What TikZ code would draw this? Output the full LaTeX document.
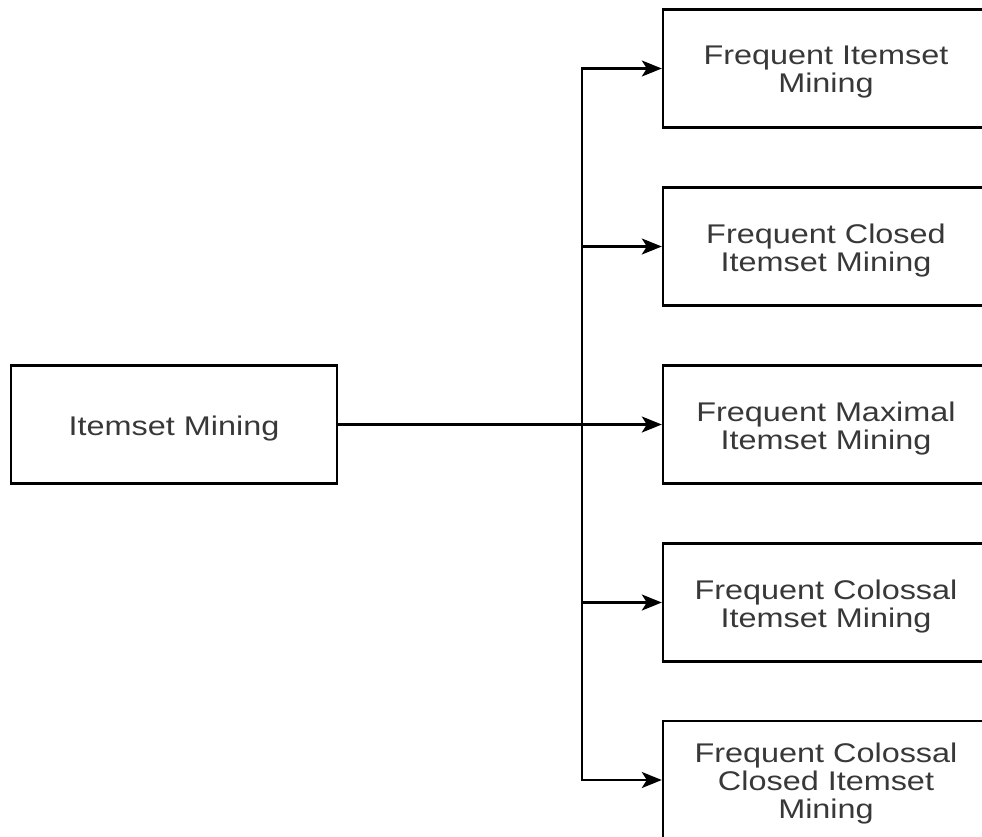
\documentclass[tikz,border=0pt]{standalone}
\usepackage{fontspec}
\setmainfont[FakeStretch=1.2]{Liberation Sans}
\usetikzlibrary{arrows.meta}
\begin{document}
\begin{tikzpicture}[x=1pt,y=-1pt,
  box/.style={draw=black, line width=2.4pt, minimum width=326pt, minimum height=118pt,
    inner sep=0pt},
  lab/.style={align=center, text=black!78, inner sep=0pt, yshift=-4pt,
    font=\fontsize{27}{28}\selectfont},
  arr/.style={draw=black, line width=2.2pt, -{Stealth[length=20pt,width=16pt,inset=5pt]}}]
  \useasboundingbox (0,0) rectangle (982,836);
  \clip (0,0) rectangle (982,836);
  % source task
  \node[box, label={[lab]center:Itemset Mining}] (src) at (174,424.5) {};
  % mining variants
  \node[box, label={[lab]center:{Frequent Itemset\\Mining}}] (c1) at (826,68.5) {};
  \node[box, label={[lab]center:{Frequent Closed\\Itemset Mining}}] (c2) at (826,246.5) {};
  \node[box, label={[lab]center:{Frequent Maximal\\Itemset Mining}}] (c3) at (826,424.5) {};
  \node[box, label={[lab]center:{Frequent Colossal\\Itemset Mining}}] (c4) at (826,602.5) {};
  \node[box, label={[lab]center:{Frequent Colossal\\Closed Itemset\\Mining}}] (c5) at (826,780) {};
  % branching point of the connectors
  \coordinate (j) at (582,424.5);
  \draw[arr] (src.east) -- (c3.west);
  \draw[arr] (src.east) -- (j) |- (c1.west);
  \draw[arr] (src.east) -- (j) |- (c2.west);
  \draw[arr] (src.east) -- (j) |- (c4.west);
  \draw[arr] (src.east) -- (j) |- (c5.west);
\end{tikzpicture}
\end{document}
